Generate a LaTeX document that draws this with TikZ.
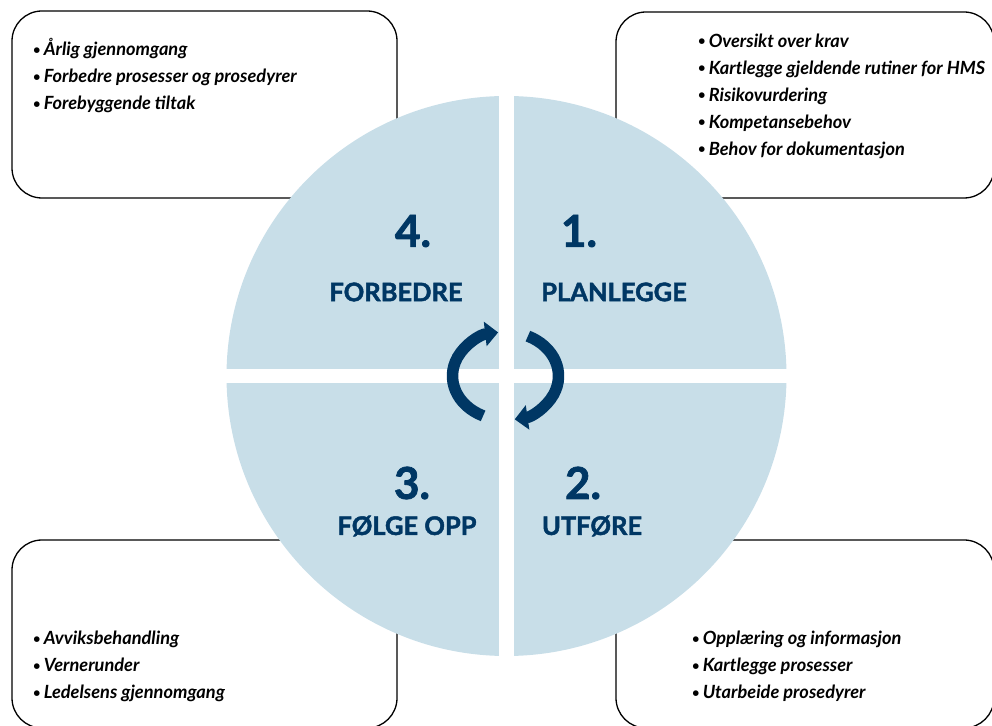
\documentclass[tikz,border=0pt]{standalone}
\usepackage{fontspec}
\setmainfont{Lato}
\newfontfamily\heavyfont{Lato}[BoldFeatures={FakeBold=1.8}]
\usetikzlibrary{arrows.meta}
\definecolor{navy}{HTML}{003764}
\definecolor{pale}{HTML}{C8DEE8}
\newcommand\blt{\raisebox{1.2pt}{\fontsize{13}{13}\selectfont•}\,}

\begin{document}
\begin{tikzpicture}[x=1pt,y=1pt,
		box/.style={draw=black,line width=1.3pt,rounded corners=30pt},
		item/.style={anchor=west,align=left,inner sep=0pt,
			font=\fontsize{18.2}{27}\selectfont\bfseries\itshape},
		num/.style={text=navy,inner sep=0pt,font=\fontsize{44}{44}\selectfont\heavyfont\bfseries},
		phase/.style={text=navy,inner sep=0pt,font=\fontsize{25.5}{25.5}\selectfont\heavyfont\bfseries},
		cycle/.style={draw=navy,line width=11.5pt,-{Triangle[width=24pt,length=13pt]}}]
	\useasboundingbox (0,0) rectangle (992,725);
	% boxes behind the wheel
	\draw[box] (12,714) rectangle (397,527);
	\draw[box] (616,713) rectangle (994,527);
	\draw[box] (12,185) rectangle (397,-3);
	\draw[box] (616,185) rectangle (994,-3);
	% wheel
	\coordinate (C) at (506.5,349);
	\begin{scope}
		\clip (C) circle[radius=280];
		\fill[pale] ([shift={(7.5,7)}]C) rectangle ++(300,300);
		\fill[pale] ([shift={(-7.5,7)}]C) rectangle ++(-300,300);
		\fill[pale] ([shift={(-7.5,-7)}]C) rectangle ++(-300,-300);
		\fill[pale] ([shift={(7.5,-7)}]C) rectangle ++(300,-300);
	\end{scope}
	% phases
	\node[num] (n1) at (579,494) {1.};
	\node[phase] (p1) at (614,433) {PLANLEGGE};
	\node[num] (n2) at (583,242) {2.};
	\node[phase] (p2) at (592,199) {UTFØRE};
	\node[num] (n3) at (412,242) {3.};
	\node[phase] (p3) at (407,199) {FØLGE OPP};
	\node[num] (n4) at (413,494) {4.};
	\node[phase] (p4) at (396,433) {FORBEDRE};
	% cycle arrows
	\coordinate (A) at (505.5,349);
	\draw[cycle] ([shift={(245:53 and 44)}]A) arc[start angle=245,end angle=98,x radius=53,y radius=44];
	\draw[cycle] ([shift={(65:53 and 44)}]A) arc[start angle=65,end angle=-80,x radius=53,y radius=44];
	% lists
	\node[item] (l4) at (33,649.5) {\blt Årlig gjennomgang\\\blt Forbedre prosesser og prosedyrer\\\blt Forebyggende tiltak};
	\node[item] (l1) at (698,629) {\blt Oversikt over krav\\\blt Kartlegge gjeldende rutiner for HMS\\\blt Risikovurdering\\\blt Kompetansebehov\\\blt Behov for dokumentasjon};
	\node[item] (l3) at (33,58.5) {\blt Avviksbehandling\\\blt Vernerunder\\\blt Ledelsens gjennomgang};
	\node[item] (l2) at (692,59) {\blt Opplæring og informasjon\\\blt Kartlegge prosesser\\\blt Utarbeide prosedyrer};
\end{tikzpicture}
\end{document}
